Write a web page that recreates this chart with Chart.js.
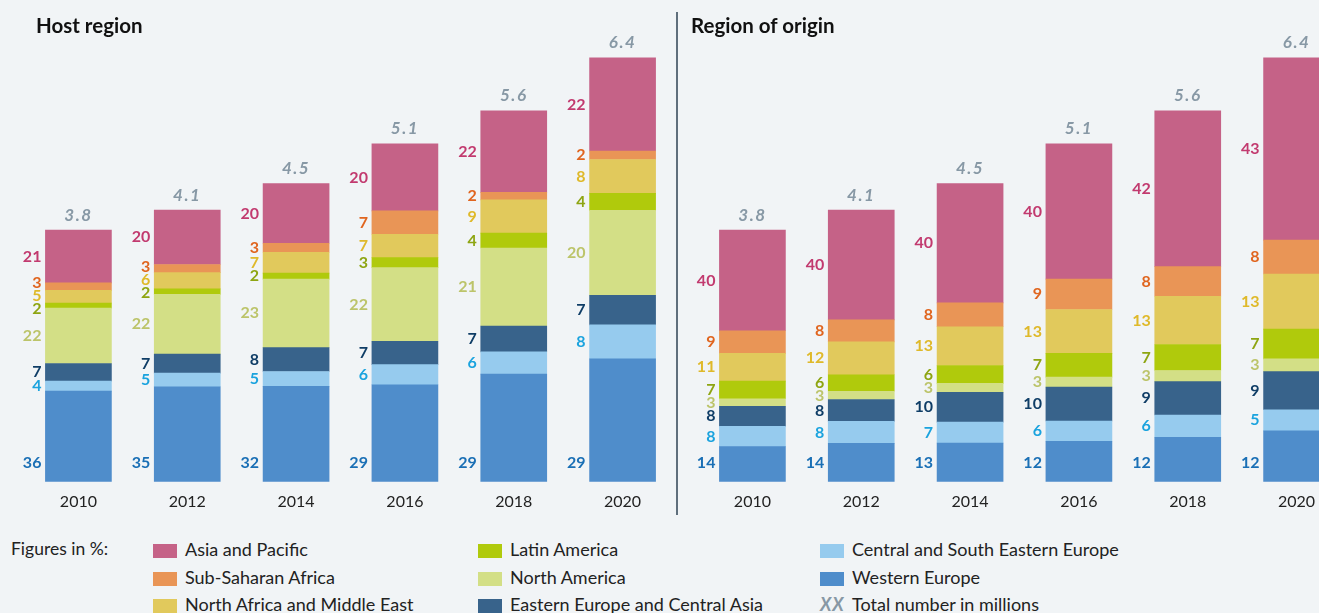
<!DOCTYPE html>
<html>
<head>
<meta charset="utf-8">
<script src="https://cdn.jsdelivr.net/npm/chart.js@4/dist/chart.umd.min.js"></script>
<style>
    body { margin: 0; width: 1319px; height: 613px; overflow: hidden; background: #f1f4f6; font-family: Lato, sans-serif; position: relative; }
    .panel { position: absolute; top: 0; }
    .title { position: absolute; top: 13px; font-weight: bold; font-size: 20.5px; color: #111; }
    .divider { position: absolute; left: 676px; top: 12px; width: 1.5px; height: 503px; background: #5f6f7c; }
    .legend-label { position: absolute; left: 11px; top: 538px; font-size: 17.5px; color: #222; }
    .item { position: absolute; font-size: 18px; color: #222; height: 22px; line-height: 22px; white-space: nowrap; }
    .item i.sw { display: inline-block; width: 24px; height: 14px; vertical-align: -2px; margin-right: 8px; }
    .item b.xx { display: inline-block; width: 24px; margin-right: 8px; font-style: italic; color: #8798a5; letter-spacing: 1px; }
</style>
</head>
<body>
<div class="panel" style="left:0"><canvas id="hostChart" width="680" height="531"></canvas></div>
<div class="panel" style="left:674px"><canvas id="originChart" width="680" height="531"></canvas></div>
<div class="divider"></div>
<div class="title" style="left:36px">Host region</div>
<div class="title" style="left:691px">Region of origin</div>
<div class="legend-label">Figures in %:</div>
<div id="legend"></div>

<script>
// Data
const years = ['2010', '2012', '2014', '2016', '2018', '2020'];
const totals = [3.8, 4.1, 4.5, 5.1, 5.6, 6.4];

// Host region, percent (bottom to top)
const hostWesternEurope = [36, 35, 32, 29, 29, 29];
const hostCentralSEEurope = [4, 5, 5, 6, 6, 8];
const hostEasternEuropeCA = [7, 7, 8, 7, 7, 7];
const hostNorthAmerica = [22, 22, 23, 22, 21, 20];
const hostLatinAmerica = [2, 2, 2, 3, 4, 4];
const hostNorthAfricaME = [5, 6, 7, 7, 9, 8];
const hostSubSaharanAfrica = [3, 3, 3, 7, 2, 2];
const hostAsiaPacific = [21, 20, 20, 20, 22, 22];

// Region of origin, percent (bottom to top)
const originWesternEurope = [14, 14, 13, 12, 12, 12];
const originCentralSEEurope = [8, 8, 7, 6, 6, 5];
const originEasternEuropeCA = [8, 8, 10, 10, 9, 9];
const originNorthAmerica = [3, 3, 3, 3, 3, 3];
const originLatinAmerica = [7, 6, 6, 7, 7, 7];
const originNorthAfricaME = [11, 12, 13, 13, 13, 13];
const originSubSaharanAfrica = [9, 8, 8, 9, 8, 8];
const originAsiaPacific = [40, 40, 40, 40, 42, 43];

const seriesNames = ['Western Europe', 'Central and South Eastern Europe', 'Eastern Europe and Central Asia',
    'North America', 'Latin America', 'North Africa and Middle East', 'Sub-Saharan Africa', 'Asia and Pacific'];

// Styles
const fillColors = ['#4f8dcb', '#96cbee', '#38638b', '#d3df86', '#b0ca0c', '#e1c95c', '#e99556', '#c56287'];
const textColors = ['#1a6fb5', '#1ba3de', '#0f3d66', '#bcc46a', '#8ea512', '#dfb92a', '#e0651f', '#c23a6f'];
const totalColor = '#8798a5';

function buildDatasets(seriesPct) {
    return seriesPct.map(function(pct, j) {
        return {
            label: seriesNames[j],
            pct: pct,
            data: pct.map(function(p, i) {
                var sum = seriesPct.reduce(function(s, arr) { return s + arr[i]; }, 0);
                return totals[i] * p / sum;
            }),
            backgroundColor: fillColors[j],
            borderWidth: 0,
            barThickness: 66
        };
    });
}

// Labels left of each segment plus totals above the bars
const segmentLabels = {
    id: 'segmentLabels',
    afterDatasetsDraw: function(chart) {
        const ctx = chart.ctx;
        const sets = chart.data.datasets;
        const gap = 13;
        ctx.save();
        for (let i = 0; i < years.length; i++) {
            let pos = [], xs = 0, topY = Infinity;
            sets.forEach(function(ds, j) {
                const bar = chart.getDatasetMeta(j).data[i];
                xs = bar.x - bar.width / 2 - 4;
                topY = Math.min(topY, bar.y);
                pos.push(j === 0 ? bar.base - 19 : (bar.y + bar.base) / 2);
            });
            for (let k = 0; k < 30; k++) {
                for (let j = 1; j < pos.length; j++) {
                    const d = pos[j - 1] - pos[j];
                    if (d < gap) {
                        const s = gap - d;
                        if (j === 1) { pos[j] -= s; }
                        else { pos[j - 1] += s / 2; pos[j] -= s / 2; }
                    }
                }
            }
            ctx.font = 'bold 16px Lato, sans-serif';
            ctx.textAlign = 'right';
            ctx.textBaseline = 'middle';
            sets.forEach(function(ds, j) {
                ctx.fillStyle = textColors[j];
                ctx.fillText(String(ds.pct[i]), xs, pos[j]);
            });
            const bar0 = chart.getDatasetMeta(0).data[i];
            ctx.font = 'italic bold 17px Lato, sans-serif';
            ctx.letterSpacing = '1.5px';
            ctx.textAlign = 'center';
            ctx.fillStyle = totalColor;
            ctx.fillText(totals[i].toFixed(1), bar0.x, topY - 15);
            ctx.letterSpacing = '0px';
        }
        ctx.restore();
    }
};

function makeChart(id, seriesPct) {
    return new Chart(document.getElementById(id), {
        type: 'bar',
        data: { labels: years, datasets: buildDatasets(seriesPct) },
        options: {
            responsive: false,
            animation: false,
            devicePixelRatio: 1,
            layout: { padding: { left: 24, right: 3, top: 18, bottom: 10 } },
            scales: {
                x: {
                    stacked: true,
                    grid: { display: false, drawTicks: false },
                    border: { display: false },
                    ticks: { color: '#222', font: { family: 'Lato', size: 16 }, padding: 10 }
                },
                y: { stacked: true, min: 0, max: 7, display: false }
            },
            plugins: { legend: { display: false }, tooltip: { enabled: false } }
        },
        plugins: [segmentLabels]
    });
}

makeChart('hostChart', [hostWesternEurope, hostCentralSEEurope, hostEasternEuropeCA, hostNorthAmerica,
    hostLatinAmerica, hostNorthAfricaME, hostSubSaharanAfrica, hostAsiaPacific]);
makeChart('originChart', [originWesternEurope, originCentralSEEurope, originEasternEuropeCA, originNorthAmerica,
    originLatinAmerica, originNorthAfricaME, originSubSaharanAfrica, originAsiaPacific]);

// Legend (column-major, three columns)
const legendOrder = [7, 6, 5, 4, 3, 2, 1, 0];
const colX = [153, 478, 820];
const rowY = [538, 566, 593];
const legend = document.getElementById('legend');
legendOrder.forEach(function(j, k) {
    const el = document.createElement('div');
    el.className = 'item';
    el.style.left = colX[Math.floor(k / 3)] + 'px';
    el.style.top = rowY[k % 3] + 'px';
    el.innerHTML = '<i class="sw" style="background:' + fillColors[j] + '"></i>' + seriesNames[j];
    legend.appendChild(el);
});
const xx = document.createElement('div');
xx.className = 'item';
xx.style.left = colX[2] + 'px';
xx.style.top = rowY[2] + 'px';
xx.innerHTML = '<b class="xx">XX</b>Total number in millions';
legend.appendChild(xx);
</script>
</body>
</html>
